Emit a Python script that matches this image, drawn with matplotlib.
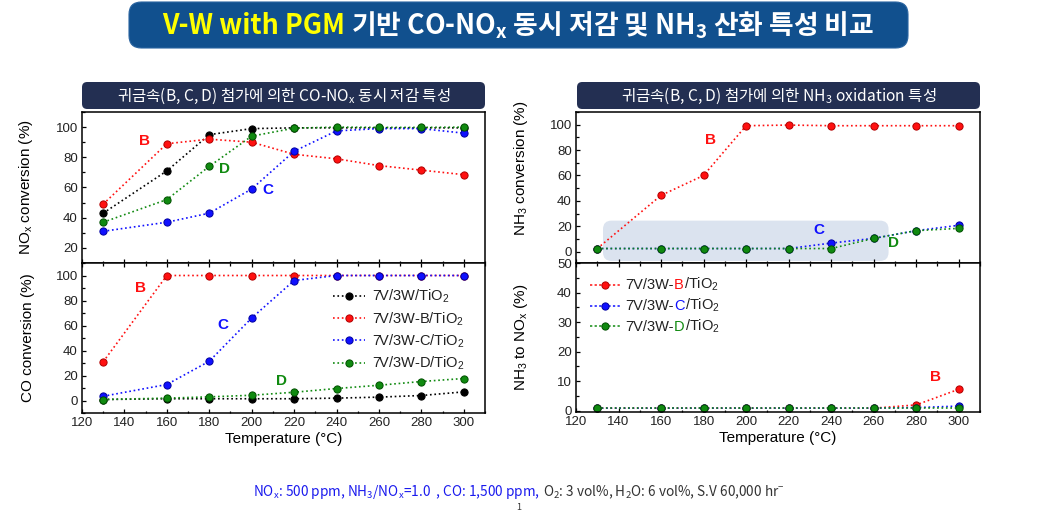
import matplotlib
matplotlib.use('Agg')
import matplotlib.pyplot as plt
from matplotlib.patches import FancyBboxPatch
from matplotlib.ticker import MultipleLocator
from matplotlib.offsetbox import TextArea, HPacker, VPacker, AnchoredOffsetbox, DrawingArea
from matplotlib.lines import Line2D

plt.rcParams['font.family'] = ['Liberation Sans', 'Noto Sans CJK KR', 'DejaVu Sans']
plt.rcParams['mathtext.fontset'] = 'custom'
plt.rcParams['mathtext.rm'] = 'Liberation Sans'
plt.rcParams['mathtext.it'] = 'Liberation Sans:italic'
plt.rcParams['mathtext.bf'] = 'Liberation Sans:bold'

# ---------------- data ----------------
temps = [130, 160, 180, 200, 220, 240, 260, 280, 300]

nox_base = [43, 71, 95, 99, 99.5, 99.5, 99.5, 99.5, 99.5]
nox_B = [49, 89, 92, 90, 82, 79, 74.5, 71.5, 68.5]
nox_C = [31, 37, 43, 59, 84, 97.5, 99, 99, 96]
nox_D = [37, 52, 74, 94, 99.3, 100, 99.8, 99.8, 100]

co_base = [0.8, 1.4, 1.4, 1.4, 1.4, 1.9, 2.7, 4.0, 6.9]
co_B = [31, 100, 100, 100, 100, 100, 100, 100, 100]
co_C = [3.4, 12.8, 31.4, 66, 96, 100, 100, 100, 100]
co_D = [0.8, 1.9, 2.9, 4.2, 6.6, 9.6, 12.2, 15.2, 17.6]

nh3_B = [2.4, 44.3, 60, 99.2, 99.7, 99.2, 99.2, 99.2, 99.2]
nh3_C = [2.4, 2.4, 2.4, 2.4, 2.4, 6.7, 10.4, 16.5, 20.7]
nh3_D = [2.4, 2.4, 2.4, 2.4, 2.4, 2.4, 10.4, 16.5, 18.3]

n2nox_B = [0.8, 0.8, 0.8, 0.8, 0.8, 0.8, 0.8, 1.9, 7.2]
n2nox_C = [0.8, 0.8, 0.8, 0.8, 0.8, 0.8, 0.8, 1.0, 1.5]
n2nox_D = [0.8, 0.8, 0.8, 0.8, 0.8, 0.8, 0.8, 0.8, 0.8]

legend_labels = ['7V/3W/TiO$_\\mathregular{2}$', '7V/3W-B/TiO$_\\mathregular{2}$',
                 '7V/3W-C/TiO$_\\mathregular{2}$', '7V/3W-D/TiO$_\\mathregular{2}$']
catalyst_letters = ['B', 'C', 'D']

# ---------------- style ----------------
C_BLACK = '#000000'
C_RED = '#ff1010'
C_BLUE = '#1010ff'
C_GREEN = '#108a10'
EC = {C_BLACK: '#000000', C_RED: '#b00000', C_BLUE: '#0000a0', C_GREEN: '#005000'}

W, H = 1037, 514
fig = plt.figure(figsize=(W / 100, H / 100), dpi=100)


def fx(x):
    return x / W


def fy(y):
    return 1 - y / H


def rect(x0, y0, x1, y1):
    return [fx(x0), fy(y1), (x1 - x0) / W, (y1 - y0) / H]


def series(ax, y, color, label=None):
    ln, = ax.plot(temps, y, linestyle=':', color=color, lw=1.2, marker='o', ms=5.2,
                  mfc=color, mec=EC[color], mew=0.7, label=label)
    return ln


def style(ax, ylim, ymaj, ymin, bottom_labels, top_ticks):
    ax.set_xlim(120, 310)
    ax.set_ylim(*ylim)
    ax.xaxis.set_major_locator(MultipleLocator(20))
    ax.xaxis.set_minor_locator(MultipleLocator(10))
    ax.yaxis.set_major_locator(MultipleLocator(ymaj))
    ax.yaxis.set_minor_locator(MultipleLocator(ymin))
    ax.tick_params(which='both', direction='in', top=top_ticks, right=False,
                   labelbottom=bottom_labels, labelsize=9.5, labelcolor='#222222', pad=3)
    ax.tick_params(which='major', length=3.2, width=0.9)
    ax.tick_params(which='minor', length=1.8, width=0.9)
    for s in ax.spines.values():
        s.set_linewidth(1.1)


# ---------------- title ----------------
tbox = FancyBboxPatch((fx(129), fy(48)), (908 - 129) / W, 46 / H,
                      boxstyle='round,pad=0,rounding_size=0.012', mutation_aspect=W / H,
                      transform=fig.transFigure, facecolor='#11508e', edgecolor='#2a64a0',
                      lw=0.8, zorder=0)
fig.patches.append(tbox)
tp = dict(family=['Noto Sans CJK KR'], fontweight='bold', fontsize=19.3)
t1 = TextArea('V-W with PGM', textprops=dict(color='#ffff00', **tp))
t2 = TextArea(' 기반 CO-NO$_\\mathregular{x}$ 동시 저감 및 NH$_\\mathregular{3}$ 산화 특성 비교',
              textprops=dict(color='white', **tp))
title_box = AnchoredOffsetbox(loc='center', child=HPacker(children=[t1, t2], sep=0, pad=0, align='baseline'),
                              bbox_to_anchor=(fx(518), fy(25)), bbox_transform=fig.transFigure,
                              frameon=False, pad=0, borderpad=0)
fig.add_artist(title_box)

# ---------------- panel headers ----------------
for (x0, x1, txt) in [(82, 485, '귀금속(B, C, D) 첨가에 의한 CO-NO$_\\mathregular{x}$ 동시 저감 특성'),
                      (577, 980, '귀금속(B, C, D) 첨가에 의한 NH$_\\mathregular{3}$ oxidation 특성')]:
    hb = FancyBboxPatch((fx(x0), fy(109)), (x1 - x0) / W, 27 / H,
                        boxstyle='round,pad=0,rounding_size=0.005', mutation_aspect=W / H,
                        transform=fig.transFigure, facecolor='#232f52', edgecolor='none', zorder=0)
    fig.patches.append(hb)
    fig.text(fx((x0 + x1) / 2), fy(96), txt, color='white', family=['Noto Sans CJK KR'],
             fontsize=11.2, ha='center', va='center')

# ---------------- left top: NOx ----------------
ax1 = fig.add_axes(rect(82, 112, 485, 263))
series(ax1, nox_base, C_BLACK)
series(ax1, nox_B, C_RED)
series(ax1, nox_C, C_BLUE)
series(ax1, nox_D, C_GREEN)
style(ax1, (10, 110), 20, 10, False, False)
ax1.set_ylabel('NO$_\\mathregular{x}$ conversion (%)', fontsize=11)
ax1.yaxis.set_label_coords(-0.117, 0.5)
ax1.text(149.7, 90.5, catalyst_letters[0], color=C_RED, fontweight='bold', fontsize=11, ha='center', va='center')
ax1.text(207.4, 58.4, catalyst_letters[1], color=C_BLUE, fontweight='bold', fontsize=11, ha='center', va='center')
ax1.text(187.0, 72.4, catalyst_letters[2], color=C_GREEN, fontweight='bold', fontsize=11, ha='center', va='center')

# ---------------- left bottom: CO ----------------
ax2 = fig.add_axes(rect(82, 263, 485, 413))
h0 = series(ax2, co_base, C_BLACK, legend_labels[0])
h1 = series(ax2, co_B, C_RED, legend_labels[1])
h2 = series(ax2, co_C, C_BLUE, legend_labels[2])
h3 = series(ax2, co_D, C_GREEN, legend_labels[3])
style(ax2, (-10, 110), 20, 10, True, True)
ax2.set_ylabel('CO conversion (%)', fontsize=11)
ax2.yaxis.set_label_coords(-0.117, 0.5)
ax2.set_xlabel('Temperature (°C)', fontsize=11, labelpad=2)
ax2.text(147.8, 90, catalyst_letters[0], color=C_RED, fontweight='bold', fontsize=11, ha='center', va='center')
ax2.text(186.6, 60.7, catalyst_letters[1], color=C_BLUE, fontweight='bold', fontsize=11, ha='center', va='center')
ax2.text(214.2, 15.4, catalyst_letters[2], color=C_GREEN, fontweight='bold', fontsize=11, ha='center', va='center')
ax2.legend(handles=[h0, h1, h2, h3], loc='upper left', bbox_to_anchor=(fx(333), fy(288)),
           bbox_transform=fig.transFigure, frameon=False, fontsize=10.5, borderpad=0,
           borderaxespad=0, handlelength=2.2, handletextpad=0.45, labelspacing=0.33,
           labelcolor='#222222')

# ---------------- right top: NH3 conversion ----------------
ax3 = fig.add_axes(rect(576, 112, 980, 263))
sh = FancyBboxPatch((132.7, -7.4), 134.3, 31.8, boxstyle='round,pad=0,rounding_size=4',
                    mutation_aspect=2.128 / 1.257, facecolor='#dbe3ef', edgecolor='none', zorder=0)
ax3.add_patch(sh)
series(ax3, nh3_B, C_RED)
series(ax3, nh3_C, C_BLUE)
series(ax3, nh3_D, C_GREEN)
style(ax3, (-9, 110), 20, 10, False, False)
ax3.set_ylabel('NH$_\\mathregular{3}$ conversion (%)', fontsize=11)
ax3.yaxis.set_label_coords(-0.114, 0.63)
ax3.text(183.4, 88, catalyst_letters[0], color=C_RED, fontweight='bold', fontsize=11, ha='center', va='center')
ax3.text(234.2, 16.7, catalyst_letters[1], color=C_BLUE, fontweight='bold', fontsize=11, ha='center', va='center')
ax3.text(269.1, 6.7, catalyst_letters[2], color=C_GREEN, fontweight='bold', fontsize=11, ha='center', va='center')

# ---------------- right bottom: NH3 to NOx ----------------
ax4 = fig.add_axes(rect(576, 263, 980, 412))
series(ax4, n2nox_B, C_RED)
series(ax4, n2nox_C, C_BLUE)
series(ax4, n2nox_D, C_GREEN)
style(ax4, (-0.5, 50), 10, 5, True, True)
ax4.set_ylabel('NH$_\\mathregular{3}$ to NO$_\\mathregular{x}$ (%)', fontsize=11)
ax4.yaxis.set_label_coords(-0.114, 0.5)
ax4.set_xlabel('Temperature (°C)', fontsize=11, labelpad=2)
ax4.text(289.2, 11.2, catalyst_letters[0], color=C_RED, fontweight='bold', fontsize=11, ha='center', va='center')

rows = []
for letter, col in zip(catalyst_letters, [C_RED, C_BLUE, C_GREEN]):
    da = DrawingArea(21.6, 8, 0, 0)
    da.add_artist(Line2D([0, 21.6], [4, 4], ls='--', dashes=(1.5, 1.5), color=col, lw=1.1))
    da.add_artist(Line2D([10.8], [4], marker='o', ms=5.2, mfc=col, mec=EC[col], mew=0.7))
    tprops = dict(fontsize=10.5, color='#222222')
    txt = HPacker(children=[TextArea('7V/3W-', textprops=tprops),
                            TextArea(letter, textprops=dict(fontsize=10.5, color=col)),
                            TextArea('/TiO$_\\mathregular{2}$', textprops=tprops)],
                  sep=0, pad=0, align='baseline')
    rows.append(HPacker(children=[da, txt], sep=4, pad=0, align='center'))
leg = AnchoredOffsetbox(loc='upper left', child=VPacker(children=rows, sep=2.5, pad=0, align='left'),
                        bbox_to_anchor=(fx(590), fy(276)), bbox_transform=fig.transFigure,
                        frameon=False, pad=0, borderpad=0)
ax4.add_artist(leg)

# ---------------- footnote ----------------
fp = dict(family=['Noto Sans CJK KR'], fontsize=9.8)
f1 = TextArea('NO$_\\mathregular{x}$: 500 ppm, NH$_\\mathregular{3}$/NO$_\\mathregular{x}$=1.0  , CO: 1,500 ppm,',
              textprops=dict(color='#1a1aee', **fp))
f2 = TextArea(' O$_\\mathregular{2}$: 3 vol%, H$_\\mathregular{2}$O: 6 vol%, S.V 60,000 hr$^\\mathregular{-}$',
              textprops=dict(color='#333333', **fp))
foot = AnchoredOffsetbox(loc='center left', child=HPacker(children=[f1, f2], sep=0, pad=0, align='baseline'),
                         bbox_to_anchor=(fx(253), fy(492)), bbox_transform=fig.transFigure,
                         frameon=False, pad=0, borderpad=0)
fig.add_artist(foot)
fig.text(fx(519), fy(507), '1', fontsize=6.5, color='#333333', family=['Noto Sans CJK KR'],
         ha='center', va='center')

fig.savefig('out.png', dpi=100)
